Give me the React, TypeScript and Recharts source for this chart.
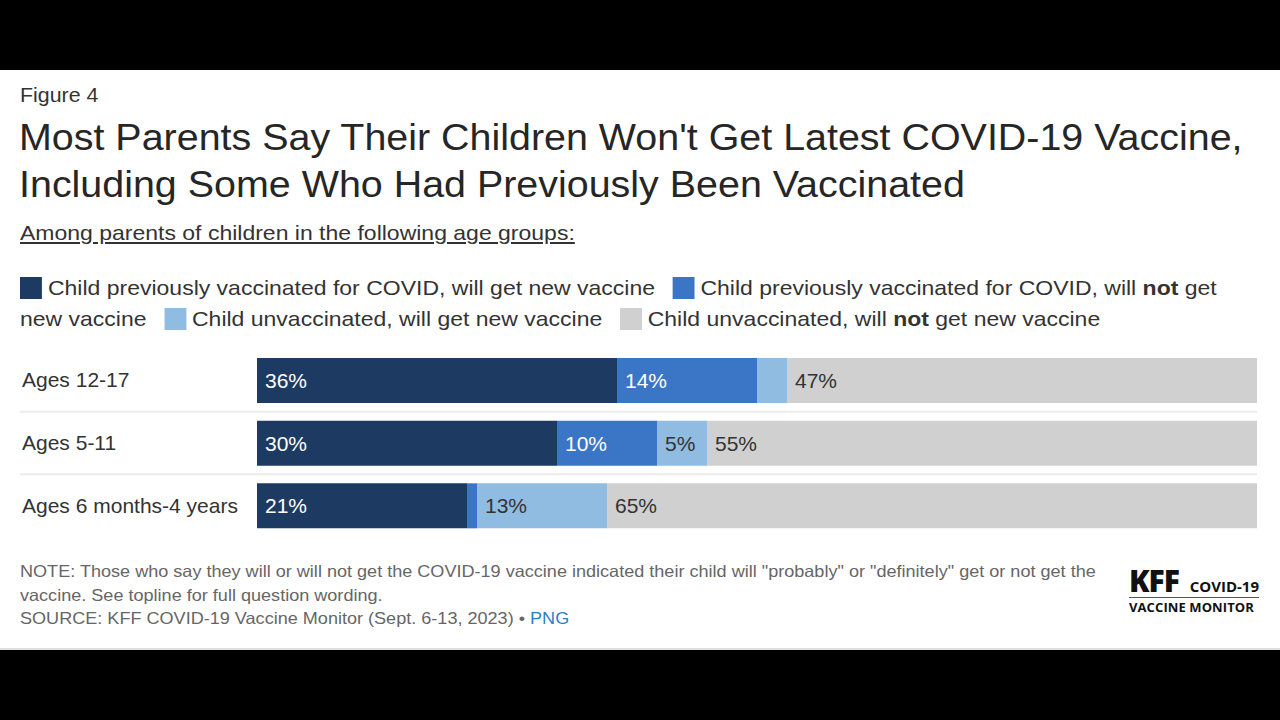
import { BarChart, Bar, XAxis, YAxis, LabelList } from 'recharts'

const categories = ['Ages 12-17', 'Ages 5-11', 'Ages 6 months-4 years']
const prevWill = [36, 30, 21]
const prevWillNot = [14, 10, 1]
const unvaxWill = [3, 5, 13]
const unvaxWillNot = [47, 55, 65]

const colors = ['#1d3b62', '#3b76c6', '#90bce2', '#d0d0d0']
const labelColors = ['#ffffff', '#ffffff', '#333333', '#333333']
const keys = ['prevWill', 'prevWillNot', 'unvaxWill', 'unvaxWillNot']

const data = categories.map((name, i) => ({
  name,
  prevWill: prevWill[i],
  prevWillNot: prevWillNot[i],
  unvaxWill: unvaxWill[i],
  unvaxWillNot: unvaxWillNot[i],
}))

const FONT = '"Liberation Sans", Arial, Helvetica, sans-serif'
const CHART_W = 1280
const AXIS_W = 257
const RIGHT = 23
// the source screenshot is slightly stretched horizontally
const STRETCH = 1.095

function AgeTick(props: any) {
  const { y, payload, index, visibleTicksCount } = props
  const half = payload.offset || 0
  return (
    <g>
      <text x={22} y={y} dy={7} textAnchor="start" fontSize={21} fill="#333" fontFamily={FONT}>
        {payload.value}
      </text>
      {index < visibleTicksCount - 1 && (
        <line x1={20} x2={CHART_W - RIGHT} y1={y + half} y2={y + half} stroke="#ececec" strokeWidth={2} />
      )}
    </g>
  )
}

function Swatch({ color, first }: { color: string; first?: boolean }) {
  return (
    <span
      style={{
        display: 'inline-block',
        width: 20,
        height: 22,
        background: color,
        verticalAlign: -4,
        marginRight: 5.5,
        marginLeft: first ? 0 : 16,
      }}
    />
  )
}

const stretched = (extra: any) => ({
  position: 'absolute' as const,
  left: 20,
  transform: `scaleX(${STRETCH})`,
  transformOrigin: 'left top',
  whiteSpace: 'nowrap' as const,
  ...extra,
})

export default function App() {
  return (
    <div
      style={{
        position: 'absolute',
        left: 0,
        top: 0,
        width: 1280,
        height: 720,
        background: '#000',
        fontFamily: FONT,
        overflow: 'hidden',
      }}
    >
      <div style={{ position: 'absolute', left: 0, top: 70, width: 1280, height: 580, background: '#fff' }}>
        <div style={stretched({ top: 14, fontSize: 19.5, color: '#333' })}>Figure 4</div>
        <div style={stretched({ left: 19, top: 44, fontSize: 36, lineHeight: '47px', color: '#262626' })}>
          Most Parents Say Their Children Won't Get Latest COVID-19 Vaccine,
          <br />
          Including Some Who Had Previously Been Vaccinated
        </div>
        <div style={stretched({ top: 151, fontSize: 21, color: '#333', textDecoration: 'underline' })}>
          Among parents of children in the following age groups:
        </div>
        <div style={stretched({ top: 202, fontSize: 21, lineHeight: '31px', color: '#333' })}>
          <Swatch color={colors[0]} first />
          Child previously vaccinated for COVID, will get new vaccine
          <Swatch color={colors[1]} />
          Child previously vaccinated for COVID, will <b>not</b> get
          <br />
          new vaccine
          <Swatch color={colors[2]} />
          Child unvaccinated, will get new vaccine
          <Swatch color={colors[3]} />
          Child unvaccinated, will <b>not</b> get new vaccine
        </div>

        <div style={{ position: 'absolute', left: 0, top: 279 }}>
          <BarChart
            width={CHART_W}
            height={188}
            data={data}
            layout="vertical"
            margin={{ top: 0, right: RIGHT, bottom: 0, left: 0 }}
            barCategoryGap={9}
          >
            <XAxis type="number" domain={[0, 100]} hide />
            <YAxis
              type="category"
              dataKey="name"
              width={AXIS_W}
              axisLine={false}
              tickLine={false}
              tick={<AgeTick />}
              interval={0}
            />
            {keys.map((k, i) => (
              <Bar key={k} dataKey={k} stackId="a" fill={colors[i]} isAnimationActive={false}>
                <LabelList
                  dataKey={k}
                  position="insideLeft"
                  offset={8}
                  formatter={(v: any) => (v >= 4 ? `${v}%` : '')}
                  style={{ fill: labelColors[i], fontSize: 21, fontFamily: FONT }}
                />
              </Bar>
            ))}
          </BarChart>
        </div>

        <div style={stretched({ top: 490, fontSize: 16.5, lineHeight: '23.5px', color: '#666' })}>
          NOTE: Those who say they will or will not get the COVID-19 vaccine indicated their child will "probably" or
          "definitely" get or not get the
          <br />
          vaccine. See topline for full question wording.
          <br />
          SOURCE: KFF COVID-19 Vaccine Monitor (Sept. 6-13, 2023) • <span style={{ color: '#2a7fc9' }}>PNG</span>
        </div>

        <div
          style={{
            position: 'absolute',
            left: 1129,
            top: 496,
            width: 130,
            fontFamily: '"Open Sans", sans-serif',
            color: '#111',
          }}
        >
          <div style={{ display: 'flex', alignItems: 'baseline', justifyContent: 'space-between', height: 30 }}>
            <span style={{ fontSize: 30, fontWeight: 800, lineHeight: '30px', letterSpacing: -1 }}>KFF</span>
            <span style={{ fontSize: 15, fontWeight: 700, lineHeight: '30px' }}>COVID-19</span>
          </div>
          <div style={{ borderTop: '1px solid #556', marginTop: 1 }} />
          <div style={{ fontSize: 13, fontWeight: 700, lineHeight: '18px', letterSpacing: 0.1 }}>VACCINE MONITOR</div>
        </div>
        <div style={{ position: 'absolute', left: 0, top: 578, width: 1280, height: 2, background: '#ddd' }} />
      </div>
    </div>
  )
}
